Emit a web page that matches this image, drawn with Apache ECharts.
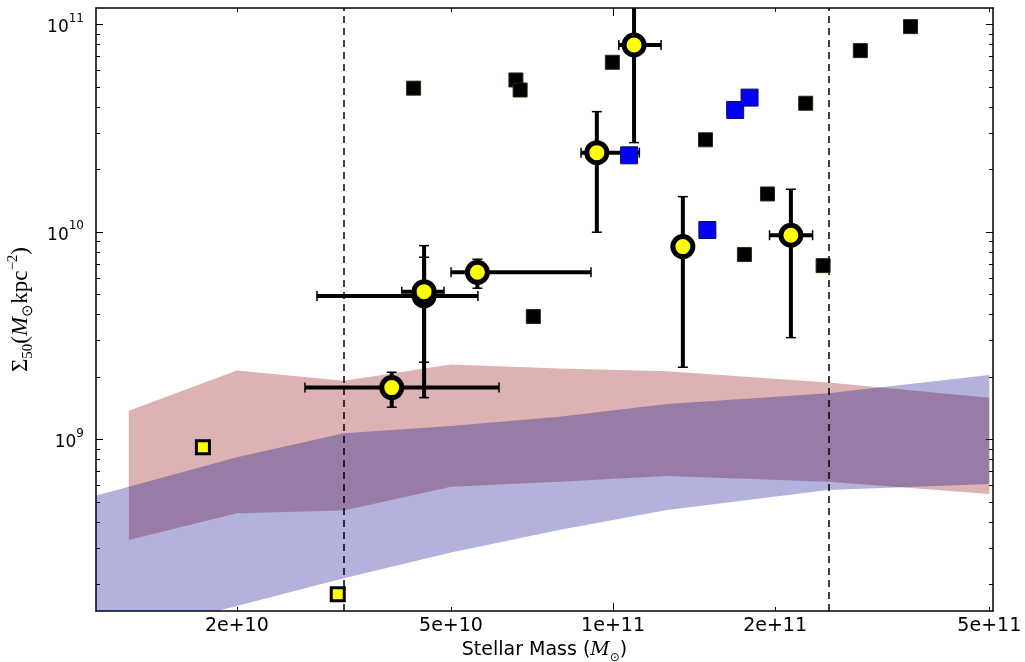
<!DOCTYPE html>
<html><head><meta charset="utf-8">
<script src="https://cdn.jsdelivr.net/npm/echarts@6/dist/echarts.min.js"></script>
<style>html,body{margin:0;padding:0;background:#fff}#c{width:1025px;height:662px}</style>
</head><body><div id="c"></div>
<script>
// ---------- data (linear units) ----------
const xTickValues = [2e10, 5e10, 1e11, 2e11, 5e11];
const xTickLabels = ['2e+10', '5e+10', '1e+11', '2e+11', '5e+11'];
const xMajorTick = [1e11];
const yMajorTicks = [1e9, 1e10, 1e11];
const yTickExponents = ['9', '10', '11'];
const xRange = [1.095e10, 5.08e11];
const yRange = [1.49e8, 1.2e11];
const cutMass = [3.15e10, 2.5e11];

const blackMass  = [4.26e10, 6.60e10, 6.72e10, 9.97e10, 3.57e11, 2.88e11, 2.28e11, 1.485e11, 1.936e11, 1.754e11, 2.456e11, 7.11e10];
const blackSigma = [4.93e10, 5.40e10, 4.83e10, 6.57e10, 9.76e10, 7.48e10, 4.17e10, 2.78e10, 1.524e10, 7.78e9, 6.88e9, 3.91e9];

const blueMass  = [1.071e11, 1.686e11, 1.793e11, 1.497e11];
const blueSigma = [2.34e10, 3.87e10, 4.44e10, 1.022e10];

const yellowSqMass  = [1.73e10, 3.08e10];
const yellowSqSigma = [9.17e8, 1.795e8];

const circMass    = [3.88e10, 4.456e10, 4.456e10, 5.597e10, 9.33e10, 1.094e11, 1.348e11, 2.14e11];
const circMassLo  = [2.677e10, 2.818e10, 4.05e10, 5.0e10, 8.72e10, 1.025e11, 1.33e11, 1.953e11];
const circMassHi  = [6.14e10, 5.61e10, 4.853e10, 9.10e10, 1.119e11, 1.228e11, 1.365e11, 2.348e11];
const circSigma   = [1.777e9, 4.915e9, 5.156e9, 6.39e9, 2.411e10, 7.96e10, 8.50e9, 9.64e9];
const circSigmaLo = [1.43e9, 1.59e9, 2.355e9, 5.355e9, 9.97e9, 2.694e10, 2.228e9, 3.095e9];
const circSigmaHi = [2.108e9, 8.59e9, 7.55e9, 7.385e9, 3.80e10, 2.0e11, 1.479e10, 1.606e10];

const bandMass = [7.94e9, 1.26e10, 2.0e10, 3.16e10, 5.0e10, 7.94e10, 1.26e11, 2.51e11, 5.0e11];
const redHigh  = [null, 1.376e9, 2.146e9, 1.92e9, 2.30e9, 2.20e9, 2.13e9, 1.88e9, 1.59e9];
const redLow   = [null, 3.28e8, 4.41e8, 4.54e8, 5.92e8, 6.26e8, 6.67e8, 6.26e8, 5.46e8];
const blueHigh = [4.28e8, 5.92e8, 8.21e8, 1.071e9, 1.162e9, 1.288e9, 1.483e9, 1.670e9, 2.046e9];
const blueLow  = [8.56e7, 1.16e8, 1.576e8, 2.144e8, 2.848e8, 3.66e8, 4.57e8, 5.71e8, 6.10e8];

// ---------- helpers ----------
const L = Math.log10;
const xMin = L(xRange[0]), xMax = L(xRange[1]);
const yMin = L(yRange[0]), yMax = L(yRange[1]);
const yMinorTicks = [];
for (let n = 8; n <= 11; n++) for (let k = 2; k <= 9; k++) {
  const v = L(k * Math.pow(10, n));
  if (v >= yMin && v <= yMax) yMinorTicks.push(v);
}
const near = (arr, v) => arr.findIndex(t => Math.abs(L(t) - v) < 1e-6);

function bandSeries(lo, hi, color, z) {
  const idx = bandMass.map((m, i) => i).filter(i => lo[i] != null);
  return {
    type: 'custom', xAxisIndex: 0, yAxisIndex: 0, clip: true, silent: true, z: z,
    data: [[L(bandMass[idx[0]]), L(lo[idx[0]])]],
    encode: { x: 0, y: 1 },
    renderItem: function (params, api) {
      const pts = [];
      idx.forEach(i => pts.push(api.coord([L(bandMass[i]), L(hi[i])])));
      idx.slice().reverse().forEach(i => pts.push(api.coord([L(bandMass[i]), L(lo[i])])));
      return { type: 'polygon', shape: { points: pts }, style: { fill: color, stroke: null } };
    }
  };
}

const errData = circMass.map((m, i) => [L(m), L(circSigma[i]), L(circMassLo[i]), L(circMassHi[i]), L(circSigmaLo[i]), L(circSigmaHi[i])]);

const tickCommon = (vals, len, show) => ({ show: show, inside: true, length: len, customValues: vals, lineStyle: { color: '#000', width: 1 } });
const hiddenLabel = { show: false };
const frameLine = { show: true, onZero: false, lineStyle: { color: '#000', width: 1.5 } };

const xLabelVals = xTickValues.map(L);
const yLabelVals = yMajorTicks.map(L);

function xAxisDef(position, ticks, len, withLine, withLabels) {
  return {
    type: 'value', min: xMin, max: xMax, position: position, gridIndex: 0,
    splitLine: { show: false },
    axisLine: withLine ? frameLine : { show: false },
    axisTick: tickCommon(ticks, len, true),
    axisLabel: withLabels ? {
      show: true, customValues: xLabelVals, margin: 6, color: '#000',
      fontFamily: 'DejaVu Sans', fontSize: 19,
      formatter: v => { const i = near(xTickValues, v); return i >= 0 ? xTickLabels[i] : ''; }
    } : hiddenLabel
  };
}
function yAxisDef(position, ticks, len, withLine, withLabels) {
  return {
    type: 'value', min: yMin, max: yMax, position: position, gridIndex: 0,
    splitLine: { show: false },
    axisLine: withLine ? frameLine : { show: false },
    axisTick: tickCommon(ticks, len, true),
    axisLabel: withLabels ? {
      show: true, customValues: yLabelVals, margin: 12, color: '#000',
      formatter: v => { const i = near(yMajorTicks, v); return i >= 0 ? '{b|10}{s|' + yTickExponents[i] + '}' : ''; },
      rich: {
        b: { fontFamily: 'DejaVu Sans', fontSize: 17, color: '#000', lineHeight: 24, verticalAlign: 'bottom' },
        s: { fontFamily: 'DejaVu Sans', fontSize: 12, color: '#000', lineHeight: 24, verticalAlign: 'top' }
      }
    } : hiddenLabel
  };
}

const xAxes = [
  xAxisDef('bottom', xLabelVals, 4, true, true),
  xAxisDef('top', xLabelVals, 4, true, false),
  xAxisDef('bottom', xMajorTick.map(L), 8, false, false),
  xAxisDef('top', xMajorTick.map(L), 8, false, false)
];
xAxes[0].name = '{t|Stellar Mass (}{i|M}{sub|⊙}{t|)}';
xAxes[0].nameLocation = 'middle';
xAxes[0].nameGap = 25;
xAxes[0].nameTextStyle = {
  rich: {
    t: { fontFamily: 'DejaVu Sans', fontSize: 19, color: '#000', lineHeight: 26 },
    i: { fontFamily: 'DejaVu Serif', fontStyle: 'italic', fontSize: 19, color: '#000', lineHeight: 26 },
    sub: { fontFamily: 'DejaVu Sans', fontSize: 12, color: '#000', lineHeight: 26, verticalAlign: 'bottom' }
  }
};

const yAxes = [
  yAxisDef('left', yLabelVals, 7, true, true),
  yAxisDef('left', yMinorTicks, 4, false, false),
  yAxisDef('right', yLabelVals, 7, true, false),
  yAxisDef('right', yMinorTicks, 4, false, false)
];
yAxes[0].name = '{t|Σ}{sub|50}{t|(}{i|M}{sub|⊙}{t|kpc}{sup|−2}{t|)}';
yAxes[0].nameLocation = 'middle';
yAxes[0].nameGap = 60;
yAxes[0].nameRotate = 90;
yAxes[0].nameTextStyle = {
  rich: {
    t: { fontFamily: 'Liberation Serif', fontSize: 23, color: '#000', lineHeight: 30 },
    i: { fontFamily: 'Liberation Serif', fontStyle: 'italic', fontSize: 23, color: '#000', lineHeight: 30 },
    sub: { fontFamily: 'Liberation Serif', fontSize: 15, color: '#000', lineHeight: 30, verticalAlign: 'bottom' },
    sup: { fontFamily: 'Liberation Serif', fontSize: 15, color: '#000', lineHeight: 30, verticalAlign: 'top' }
  }
};

const option = {
  animation: false,
  backgroundColor: '#fff',
  grid: { left: 96, right: 32, top: 8, bottom: 51, containLabel: false, outerBoundsMode: 'none' },
  xAxis: xAxes,
  yAxis: yAxes,
  series: [
    bandSeries(redLow, redHigh, 'rgba(139,0,0,0.3)', 1),
    bandSeries(blueLow, blueHigh, 'rgba(0,0,139,0.3)', 2),
    {
      type: 'scatter', xAxisIndex: 0, yAxisIndex: 0, data: [], z: 3, silent: true,
      markLine: {
        silent: true, symbol: 'none', animation: false,
        label: { show: false },
        lineStyle: { color: '#000', width: 1.5, type: [7, 5] },
        data: cutMass.map(v => ({ xAxis: L(v) }))
      }
    },
    {
      type: 'custom', xAxisIndex: 0, yAxisIndex: 0, clip: true, silent: true, z: 4,
      data: errData,
      encode: { x: 0, y: 1 },
      renderItem: function (params, api) {
        const xc = api.value(0), yc = api.value(1);
        const xl = api.value(2), xh = api.value(3), yl = api.value(4), yh = api.value(5);
        const pL = api.coord([xl, yc]), pR = api.coord([xh, yc]);
        const pB = api.coord([xc, yl]), pT = api.coord([xc, yh]);
        const bar = { stroke: '#000', lineWidth: 4 };
        const cap = { stroke: '#000', lineWidth: 1.5 };
        const c = 5;
        return {
          type: 'group',
          children: [
            { type: 'line', shape: { x1: pL[0], y1: pL[1], x2: pR[0], y2: pR[1] }, style: bar },
            { type: 'line', shape: { x1: pB[0], y1: pB[1], x2: pT[0], y2: pT[1] }, style: bar },
            { type: 'line', shape: { x1: pL[0], y1: pL[1] - c, x2: pL[0], y2: pL[1] + c }, style: cap },
            { type: 'line', shape: { x1: pR[0], y1: pR[1] - c, x2: pR[0], y2: pR[1] + c }, style: cap },
            { type: 'line', shape: { x1: pB[0] - c, y1: pB[1], x2: pB[0] + c, y2: pB[1] }, style: cap },
            { type: 'line', shape: { x1: pT[0] - c, y1: pT[1], x2: pT[0] + c, y2: pT[1] }, style: cap }
          ]
        };
      }
    },
    {
      type: 'scatter', xAxisIndex: 0, yAxisIndex: 0, z: 5, silent: true,
      symbol: 'circle', symbolSize: 20,
      itemStyle: { color: '#ffff00', borderColor: '#000', borderWidth: 5, opacity: 1 },
      data: circMass.map((m, i) => [L(m), L(circSigma[i])])
    },
    {
      type: 'scatter', xAxisIndex: 0, yAxisIndex: 0, z: 6, silent: true,
      symbol: 'rect', symbolSize: 14,
      itemStyle: { color: '#000', borderColor: '#2a2a12', borderWidth: 1, opacity: 1 },
      data: blackMass.map((m, i) => [L(m), L(blackSigma[i])])
    },
    {
      type: 'scatter', xAxisIndex: 0, yAxisIndex: 0, z: 6, silent: true,
      symbol: 'rect', symbolSize: 17,
      itemStyle: { color: '#0000ff', borderColor: '#10104a', borderWidth: 1, opacity: 1 },
      data: blueMass.map((m, i) => [L(m), L(blueSigma[i])])
    },
    {
      type: 'scatter', xAxisIndex: 0, yAxisIndex: 0, z: 6, silent: true,
      symbol: 'rect', symbolSize: 13,
      itemStyle: { color: '#ffff00', borderColor: '#000', borderWidth: 3, opacity: 1 },
      data: yellowSqMass.map((m, i) => [L(m), L(yellowSqSigma[i])])
    }
  ]
};
const chart = echarts.init(document.getElementById('c'), null, { renderer: 'canvas' });
chart.setOption(option);
</script>
</body></html>
